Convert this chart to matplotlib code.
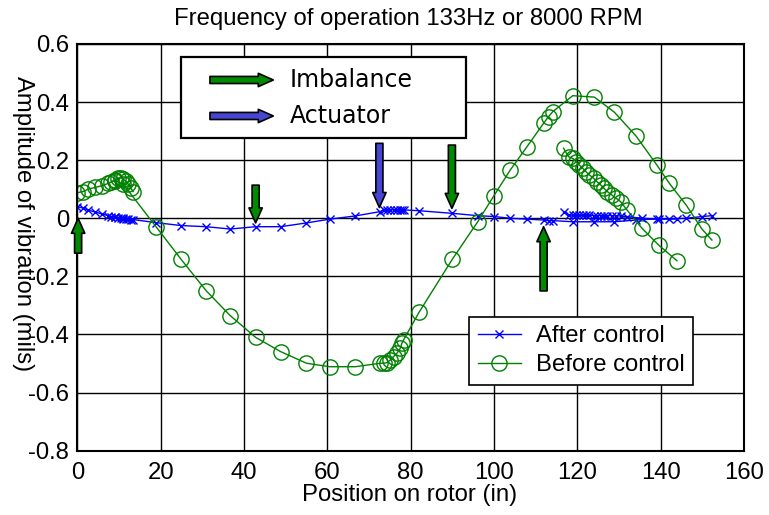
import matplotlib.pyplot as plt
from matplotlib.patches import Rectangle

plt.rcParams['font.family'] = ['Liberation Sans', 'DejaVu Sans']

# posiciones a lo largo del rotor (in) - barrido principal
pos_main = [0, 1.4, 2.6, 4.2, 5.9, 7.4, 9.0, 11.0, 18.9, 24.9, 30.9, 36.7, 42.8,
            48.8, 55.0, 60.6, 66.7, 72.7, 73.5, 74.3, 75.1, 75.9, 76.7, 77.5,
            77.9, 78.3, 82.0, 90.0, 96.1, 100.0, 103.9, 107.9, 111.9, 113.1,
            114.1, 118.9, 124.1, 128.9, 134.1, 139.1, 142.1, 146.1, 149.9, 152.3]
antes_main = [0.088, 0.092, 0.100, 0.106, 0.112, 0.120, 0.130, 0.118, -0.029,
              -0.141, -0.249, -0.335, -0.410, -0.459, -0.499, -0.511, -0.511,
              -0.499, -0.499, -0.497, -0.488, -0.476, -0.465, -0.448, -0.430,
              -0.419, -0.324, -0.141, -0.012, 0.078, 0.166, 0.246, 0.327, 0.350,
              0.367, 0.422, 0.417, 0.365, 0.283, 0.183, 0.120, 0.046, -0.037, -0.075]
despues_main = [0.040, 0.035, 0.028, 0.022, 0.015, 0.009, 0.004, 0.000, -0.015,
                -0.025, -0.029, -0.037, -0.029, -0.029, -0.016, -0.003, 0.008,
                0.023, 0.029, 0.029, 0.029, 0.029, 0.029, 0.029, 0.029, 0.029,
                0.026, 0.017, 0.009, 0.006, 0.000, -0.003, -0.006, -0.008, -0.008,
                -0.012, -0.012, -0.012, -0.006, -0.002, -0.002, 0.000, 0.006, 0.009]

# barrido fino cerca del primer sensor
pos_ini = [8.2, 9.0, 9.8, 10.4, 11.0, 11.6, 12.2, 12.8, 13.4]
antes_ini = [0.126, 0.132, 0.138, 0.140, 0.135, 0.128, 0.118, 0.105, 0.092]
despues_ini = [0.006, 0.004, 0.002, 0.000, -0.002, -0.003, -0.004, -0.005, -0.006]

# segundo barrido en la zona derecha
pos_der = [116.7, 117.9, 118.9, 119.7, 120.5, 121.3, 122.1, 122.9, 123.9, 124.7,
           125.6, 126.4, 127.2, 128.3, 129.3, 130.4, 131.9, 135.5, 139.5, 143.9]
antes_der = [0.241, 0.212, 0.206, 0.195, 0.183, 0.172, 0.160, 0.149, 0.138, 0.126,
             0.115, 0.103, 0.092, 0.080, 0.069, 0.057, 0.029, -0.034, -0.092, -0.146]
despues_der = [0.020, 0.012, 0.010, 0.010, 0.010, 0.010, 0.010, 0.010, 0.009, 0.009,
               0.009, 0.009, 0.009, 0.009, 0.008, 0.008, 0.006, 0.000, -0.003, -0.002]

# flechas: (x, y punta, y cola, color)
flechas = [(0.2, 0.000, -0.120, 'green'),
           (42.8, -0.016, 0.114, 'green'),
           (72.5, 0.037, 0.258, 'blue'),
           (89.9, 0.034, 0.252, 'green'),
           (111.9, -0.029, -0.250, 'green')]
colores_flecha = {'green': '#008a00', 'blue': '#4646d2'}

yticks = [-0.8, -0.6, -0.4, -0.2, 0, 0.2, 0.4, 0.6]
yticklabels = ['-0.8', '-0.6', '-0.4', '-0.2', '0', '0.2', '0.4', '0.6']
xticks = [0, 20, 40, 60, 80, 100, 120, 140, 160]

verde = '#008000'
azul = '#0000ff'
fs = 17.2

fig = plt.figure(figsize=(7.69, 5.15), dpi=100)
ax = fig.add_axes([0.1005, 0.1249, 0.8670, 0.7897])

ax.plot(pos_main, despues_main, 'x-', color=azul, lw=1, ms=6, mew=1, label='After control')
ax.plot(pos_main, antes_main, 'o-', color=verde, lw=1, ms=11, mew=1, mfc='none', label='Before control')
ax.plot(pos_ini, antes_ini, 'o-', color=verde, lw=1, ms=11, mew=1, mfc='none')
ax.plot(pos_ini, despues_ini, 'x-', color=azul, lw=1, ms=6, mew=1)
ax.plot(pos_der, antes_der, 'o-', color=verde, lw=1, ms=11, mew=1, mfc='none')
ax.plot(pos_der, despues_der, 'x-', color=azul, lw=1, ms=6, mew=1)

estilo = 'simple,head_length=0.72,head_width=0.64,tail_width=0.34'
for x, yp, yc, c in flechas:
    ax.annotate('', xy=(x, yp), xytext=(x, yc),
                arrowprops=dict(arrowstyle=estilo, mutation_scale=15,
                                fc=colores_flecha[c], ec='black', lw=1.2,
                                shrinkA=0, shrinkB=0))

# caja de leyenda de flechas
ax.add_patch(Rectangle((0.1556, 0.769), 0.4274, 0.199, transform=ax.transAxes,
                       fc='white', ec='black', lw=1.6, zorder=5))
for yy, c, txt in [(0.9115, 'green', 'Imbalance'), (0.823, 'blue', 'Actuator')]:
    ax.annotate('', xy=(0.294, yy), xytext=(0.199, yy), xycoords='axes fraction',
                arrowprops=dict(arrowstyle=estilo, mutation_scale=15,
                                fc=colores_flecha[c], ec='black', lw=1.2,
                                shrinkA=0, shrinkB=0), zorder=6)
    ax.text(0.319, yy, txt, transform=ax.transAxes, fontsize=17,
            family='DejaVu Sans', va='center', ha='left', zorder=6)

ax.set_xlim(0, 160)
ax.set_ylim(-0.8, 0.6)
ax.set_xticks(xticks)
ax.set_yticks(yticks)
ax.set_yticklabels(yticklabels)
ax.tick_params(length=0, labelsize=fs)
ax.tick_params(axis='x', pad=8)
ax.tick_params(axis='y', pad=6)
ax.grid(True, color='black', lw=1, ls='-')
ax.set_axisbelow(True)
for s in ax.spines.values():
    s.set_linewidth(1.5)

leg = ax.legend(loc='upper left', bbox_to_anchor=(0.588, 0.329), borderaxespad=0,
                fontsize=fs, fancybox=False, edgecolor='black', framealpha=1,
                handlelength=1.8, handletextpad=0.65, labelspacing=0.3, borderpad=0.35)
leg.get_frame().set_linewidth(1.2)

fig.text(0.531, 0.963, 'Frequency of operation 133Hz or 8000 RPM', ha='center', va='center', fontsize=fs)
fig.text(0.533, 0.039, 'Position on rotor (in)', ha='center', va='center', fontsize=fs)
fig.text(0.030, 0.565, 'Amplitude of vibration (mils)', ha='center', va='center',
         fontsize=fs, rotation=270)

fig.savefig('out.png', dpi=100)
